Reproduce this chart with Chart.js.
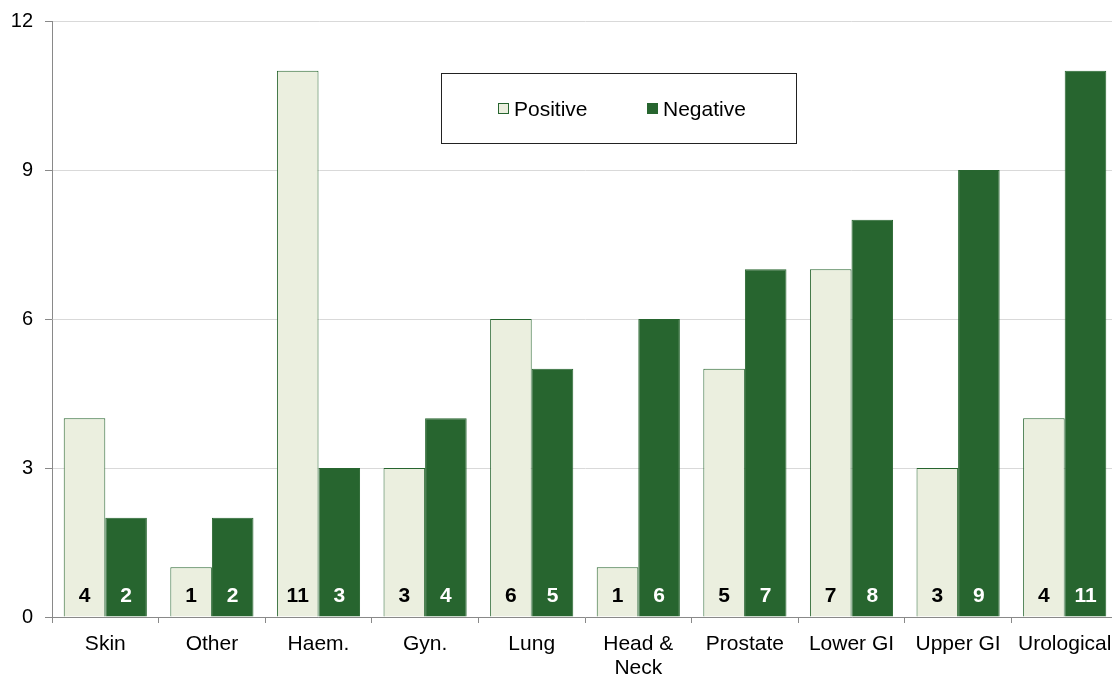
<!DOCTYPE html>
<html>
<head>
<meta charset="utf-8">
<script src="https://cdn.jsdelivr.net/npm/chart.js@4/dist/chart.umd.min.js"></script>
<style>
  html, body { margin: 0; padding: 0; background: #ffffff; overflow: hidden; }
  #wrap { width: 1120px; height: 675px; }
</style>
</head>
<body>
<div id="wrap"><canvas id="c" width="1120" height="675"></canvas></div>
<script>
// Tumour groups and counts per outcome
const categories = ['Skin', 'Other', 'Haem.', 'Gyn.', 'Lung', ['Head &', 'Neck'], 'Prostate', 'Lower GI', 'Upper GI', 'Urological'];
const positive = [4, 1, 11, 3, 6, 1, 5, 7, 3, 4];
const negative = [2, 2, 3, 4, 5, 6, 7, 8, 9, 11];
const yTicks = [0, 3, 6, 9, 12];

const FONT = "'Liberation Sans', Arial, sans-serif";
const DARK_GREEN = '#27652f';
const LIGHT_FILL = '#ebefdf';

// Value labels near the base of each bar
const valueLabels = {
  id: 'valueLabels',
  afterDatasetsDraw(chart) {
    const ctx = chart.ctx;
    ctx.save();
    ctx.font = "bold 21px " + FONT;
    ctx.textAlign = 'center';
    ctx.textBaseline = 'middle';
    chart.data.datasets.forEach((ds, i) => {
      const meta = chart.getDatasetMeta(i);
      ctx.fillStyle = i === 0 ? '#000000' : '#ffffff';
      meta.data.forEach((bar, j) => {
        ctx.fillText(String(ds.data[j]), bar.x, bar.base - 20);
      });
    });
    ctx.restore();
  }
};

// Boxed legend inside the plot area
const boxLegend = {
  id: 'boxLegend',
  afterDraw(chart) {
    const ctx = chart.ctx;
    ctx.save();
    ctx.fillStyle = '#ffffff';
    ctx.fillRect(441, 73, 356, 71);
    ctx.strokeStyle = '#222222';
    ctx.lineWidth = 1;
    ctx.strokeRect(441.5, 73.5, 355, 70);
    ctx.font = "21px " + FONT;
    ctx.textBaseline = 'middle';
    ctx.textAlign = 'left';
    const items = [{ x: 498 }, { x: 647 }];
    chart.data.datasets.forEach((ds, i) => {
      const x = items[i].x;
      ctx.fillStyle = ds.backgroundColor;
      ctx.fillRect(x, 103, 11, 11);
      ctx.strokeStyle = ds.borderColor;
      ctx.strokeRect(x + 0.5, 103.5, 10, 10);
      ctx.fillStyle = '#000000';
      ctx.fillText(ds.label, x + 16, 110);
    });
    ctx.restore();
  }
};

new Chart(document.getElementById('c'), {
  type: 'bar',
  data: {
    labels: categories,
    datasets: [
      { label: 'Positive', data: positive, backgroundColor: LIGHT_FILL, borderColor: DARK_GREEN, borderWidth: 1 },
      { label: 'Negative', data: negative, backgroundColor: DARK_GREEN, borderColor: DARK_GREEN, borderWidth: 1 }
    ]
  },
  options: {
    responsive: false,
    animation: false,
    layout: { padding: { top: 21, right: 2, left: 0, bottom: 0 } },
    datasets: { bar: { categoryPercentage: 0.78, barPercentage: 1.0 } },
    plugins: { legend: { display: false }, tooltip: { enabled: false } },
    scales: {
      x: {
        offset: true,
        grid: { display: true, drawOnChartArea: false, drawTicks: true, tickLength: 6, tickColor: '#898989', offset: true },
        border: { color: '#898989', width: 1 },
        ticks: { color: '#000000', font: { family: FONT, size: 21, lineHeight: 1.15 }, padding: 9, maxRotation: 0, minRotation: 0, autoSkip: false },
        afterFit(scale) { scale.height = 58; scale.paddingLeft = 0; scale.paddingRight = 0; }
      },
      y: {
        min: 0,
        max: 12,
        afterBuildTicks(scale) { scale.ticks = yTicks.map(v => ({ value: v })); },
        grid: { color: '#d9d9d9', lineWidth: 1, drawTicks: true, tickLength: 7, tickColor: '#898989' },
        border: { color: '#898989', width: 1 },
        ticks: { color: '#000000', font: { family: FONT, size: 20 }, padding: 12 },
        afterFit(scale) { scale.width = 52; scale.paddingTop = 0; scale.paddingBottom = 0; }
      }
    }
  },
  plugins: [valueLabels, boxLegend]
});
</script>
</body>
</html>
